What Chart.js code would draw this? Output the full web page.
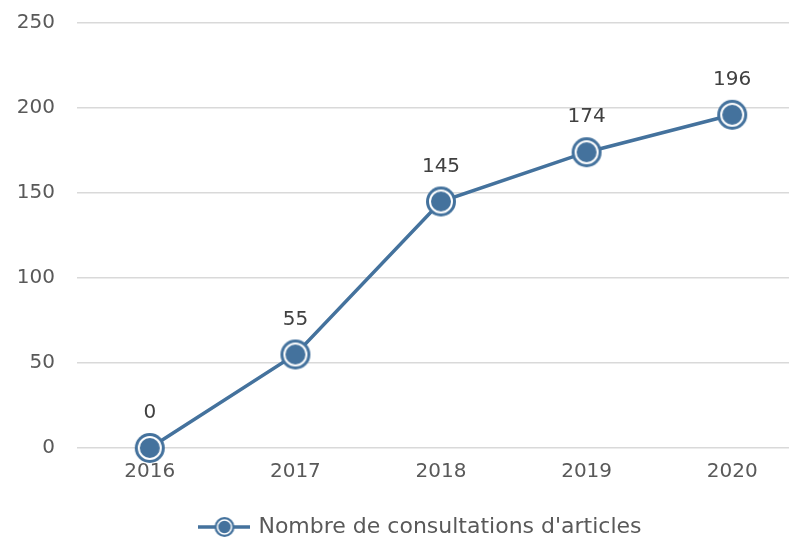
<!DOCTYPE html>
<html>
<head>
<meta charset="utf-8">
<script src="https://cdn.jsdelivr.net/npm/chart.js@4/dist/chart.umd.min.js"></script>
<style>
  html, body { margin: 0; padding: 0; background: #fff; overflow: hidden; }
  #wrap { position: relative; width: 805px; height: 548px; }
</style>
</head>
<body>
<div id="wrap"><canvas id="chart"></canvas></div>
<script>
// data
const years = ['2016', '2017', '2018', '2019', '2020'];
const consultations = [0, 55, 145, 174, 196];
const seriesLabel = "Nombre de consultations d'articles";
const yMin = 0, yMax = 250, yStep = 50;

const blue = '#44729d';
const textGrey = '#595959';
const fontFamily = '"DejaVu Sans", sans-serif';

// marker: blue disc with a thin white ring inside
function makeMarker(r, ringR, ringW) {
  const c = document.createElement('canvas');
  const s = Math.ceil(r * 2 + 2);
  c.width = s; c.height = s;
  const g = c.getContext('2d');
  g.fillStyle = blue;
  g.beginPath(); g.arc(s / 2, s / 2, r, 0, Math.PI * 2); g.fill();
  g.strokeStyle = '#fff'; g.lineWidth = ringW;
  g.beginPath(); g.arc(s / 2, s / 2, ringR, 0, Math.PI * 2); g.stroke();
  return c;
}

// legend swatch: line through a smaller marker
function makeLegendSwatch() {
  const w = 52, h = 24;
  const c = document.createElement('canvas');
  c.width = w; c.height = h;
  const g = c.getContext('2d');
  g.strokeStyle = blue; g.lineWidth = 3.5;
  g.beginPath(); g.moveTo(0, h / 2); g.lineTo(w, h / 2); g.stroke();
  g.drawImage(makeMarker(10, 7, 1.5), w / 2 - 11, h / 2 - 11);
  return c;
}

const marker = makeMarker(15, 11, 2);
const legendSwatch = makeLegendSwatch();

// value labels above each point
const valueLabels = {
  id: 'valueLabels',
  afterDatasetsDraw(chart) {
    const ctx = chart.ctx;
    const meta = chart.getDatasetMeta(0);
    ctx.save();
    ctx.font = '20px ' + fontFamily;
    ctx.fillStyle = '#404040';
    ctx.textAlign = 'center';
    ctx.textBaseline = 'middle';
    meta.data.forEach((pt, i) => {
      ctx.fillText(String(consultations[i]), pt.x, pt.y - 35);
    });
    ctx.restore();
  }
};

// the legend sits a little right of the canvas centre in the reference
const legendShift = {
  id: 'legendShift',
  afterLayout(chart) {
    if (chart.legend) {
      chart.legend.left += 19;
      chart.legend.right += 19;
    }
  }
};

new Chart(document.getElementById('chart'), {
  type: 'line',
  data: {
    labels: years,
    datasets: [{
      label: seriesLabel,
      data: consultations,
      borderColor: blue,
      backgroundColor: blue,
      borderWidth: 3.5,
      tension: 0,
      clip: false,
      pointStyle: marker,
      pointRadius: 15,
      pointHoverRadius: 15
    }]
  },
  options: {
    responsive: true,
    maintainAspectRatio: false,
    animation: false,
    layout: { autoPadding: false, padding: { top: 23, left: 0, right: 0, bottom: 0 } },
    plugins: {
      tooltip: { enabled: false },
      legend: {
        position: 'bottom',
        labels: {
          usePointStyle: true,
          pointStyleWidth: 46,
          padding: 6,
          color: textGrey,
          font: { size: 22, family: fontFamily },
          generateLabels(chart) {
            const items = Chart.defaults.plugins.legend.labels.generateLabels(chart);
            items.forEach(it => { it.pointStyle = legendSwatch; });
            return items;
          }
        }
      }
    },
    scales: {
      x: {
        offset: true,
        grid: { display: true, drawOnChartArea: false, color: 'rgba(0,0,0,0)', tickLength: 12 },
        border: { display: false },
        ticks: { color: textGrey, padding: 0, font: { size: 20, family: fontFamily } },
        afterFit(scale) { scale.height = 62; }
      },
      y: {
        min: yMin,
        max: yMax,
        grid: { color: '#d9d9d9', lineWidth: 1.5, tickLength: 22, tickColor: 'rgba(0,0,0,0)' },
        border: { display: false },
        ticks: { stepSize: yStep, color: textGrey, padding: 0, font: { size: 20, family: fontFamily } },
        afterFit(scale) { scale.width = 77; }
      }
    }
  },
  plugins: [valueLabels, legendShift]
});
</script>
</body>
</html>
